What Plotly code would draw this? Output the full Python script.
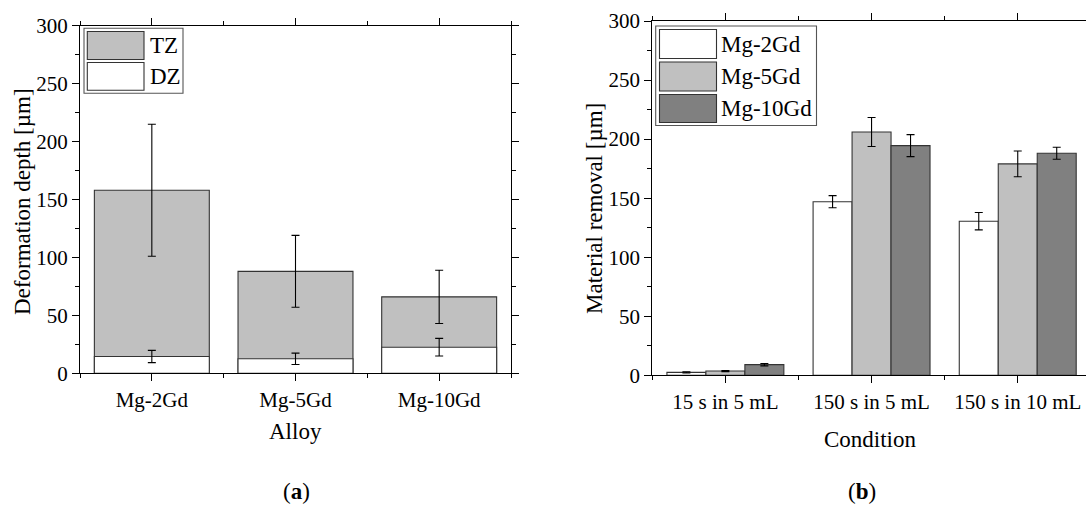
import plotly.graph_objects as go

# ---------------- data ----------------
alloys = ["Mg-2Gd", "Mg-5Gd", "Mg-10Gd"]
zone_names = ["TZ", "DZ"]
tz_depth = [158, 88, 66]          # total deformation depth (TZ bar top)
tz_err = [57, 31, 23]
dz_depth = [14.5, 12.5, 22.5]
dz_err = [5.3, 4.9, 7.6]

conditions = ["15 s in 5 mL", "150 s in 5 mL", "150 s in 10 mL"]
alloy_names = ["Mg-2Gd", "Mg-5Gd", "Mg-10Gd"]
removal = {
    "Mg-2Gd": [2.5, 147, 130.5],
    "Mg-5Gd": [3.6, 206, 179],
    "Mg-10Gd": [9.0, 194.5, 188],
}
removal_err = {
    "Mg-2Gd": [0.5, 5.1, 7.4],
    "Mg-5Gd": [0.5, 12.3, 10.9],
    "Mg-10Gd": [1.0, 9.3, 5.1],
}

y_ticks = [0, 50, 100, 150, 200, 250, 300]

# ---------------- styles ----------------
W, H = 1086, 524
FONT = "Liberation Serif"
TICK_SIZE = 21
TITLE_SIZE = 23
LEG_SIZE = 23
EDGE = "#333333"
fills_zone = {"TZ": "#c0c0c0", "DZ": "#ffffff"}
fills_alloy = {"Mg-2Gd": "#ffffff", "Mg-5Gd": "#c0c0c0", "Mg-10Gd": "#808080"}


def fx(px):
    return px / W


def fy(py):
    return 1 - py / H


fig = go.Figure()

# left chart: overlaid TZ (total) and DZ bars
xl = list(range(len(alloys)))
for name, vals, errs in [("TZ", tz_depth, tz_err), ("DZ", dz_depth, dz_err)]:
    fig.add_trace(go.Bar(
        x=xl, y=vals, name=name, width=0.8, offset=-0.4,
        marker=dict(color=fills_zone[name], line=dict(color=EDGE, width=1.1)),
        error_y=dict(type="data", array=errs, visible=True, color="black",
                     thickness=1.1, width=4),
        xaxis="x", yaxis="y", showlegend=False,
    ))

# right chart: grouped bars
xr = list(range(len(conditions)))
for name in alloy_names:
    fig.add_trace(go.Bar(
        x=xr, y=removal[name], name=name,
        marker=dict(color=fills_alloy[name], line=dict(color=EDGE, width=1.1)),
        error_y=dict(type="data", array=removal_err[name], visible=True,
                     color="black", thickness=1.1, width=4),
        xaxis="x2", yaxis="y2", showlegend=False,
    ))

axis_common = dict(
    showline=True, linecolor="black", linewidth=1.2,
    ticks="outside", tickcolor="black", tickwidth=1.2, ticklen=7,
    showgrid=False, zeroline=False,
    tickfont=dict(family=FONT, size=TICK_SIZE, color="black"),
    automargin=False,
)

cat_minor = dict(tickmode="array", tickvals=[-0.5, 0.5, 1.5, 2.5], ticks="outside",
                 ticklen=4, tickcolor="black", tickwidth=1.2, showgrid=False)
y_minor = dict(dtick=25, ticks="outside", ticklen=4, tickcolor="black",
               tickwidth=1.2, showgrid=False)

fig.update_layout(
    width=W, height=H,
    margin=dict(l=0, r=0, t=0, b=0),
    paper_bgcolor="white", plot_bgcolor="white",
    barmode="group", bargap=0.2, bargroupgap=0,
    font=dict(family=FONT, color="black"),
    xaxis=dict(domain=[fx(80), fx(511)], range=[-0.5, 2.5],
               tickmode="array", tickvals=xl, ticktext=alloys,
               mirror="allticks", minor=cat_minor, anchor="y", **axis_common),
    yaxis=dict(domain=[fy(373.3), fy(25.7)], range=[0, 300],
               tickmode="array", tickvals=y_ticks,
               mirror="allticks", minor=y_minor, anchor="x", **axis_common),
    xaxis2=dict(domain=[fx(652.3), 1.0], range=[-0.5, 2.467],
                tickmode="array", tickvals=xr, ticktext=conditions,
                mirror="allticks", minor=cat_minor, anchor="y2", **axis_common),
    yaxis2=dict(domain=[fy(375.3), fy(21)], range=[0, 300],
                tickmode="array", tickvals=y_ticks,
                mirror=False, minor=y_minor, anchor="x2", **axis_common),
)

# axis titles and panel labels
ann = [
    ("Deformation depth [µm]", 23, 202, -90),
    ("Alloy", 295.5, 431, 0),
    ("Material removal [µm]", 594, 209, -90),
    ("Condition", 870.5, 439, 0),
    ("(<b>a</b>)", 296, 491, 0),
    ("(<b>b</b>)", 862, 491, 0),
]
for text, px, py, ang in ann:
    fig.add_annotation(xref="paper", yref="paper", showarrow=False,
                       x=fx(px), y=fy(py), xanchor="center", yanchor="middle",
                       textangle=ang, text=text,
                       font=dict(family=FONT, size=TITLE_SIZE, color="black"))

# custom legends (large swatches)
shapes = []


def legend(box, sw_x0, sw_x1, rows, names, fills, text_x):
    shapes.append(dict(type="rect", xref="paper", yref="paper",
                       x0=fx(box[0]), x1=fx(box[1]), y0=fy(box[3]), y1=fy(box[2]),
                       line=dict(color="#555555", width=1.1), fillcolor="white"))
    for (r0, r1), nm in zip(rows, names):
        shapes.append(dict(type="rect", xref="paper", yref="paper",
                           x0=fx(sw_x0), x1=fx(sw_x1), y0=fy(r1), y1=fy(r0),
                           line=dict(color=EDGE, width=1.1), fillcolor=fills[nm]))
        fig.add_annotation(xref="paper", yref="paper", showarrow=False,
                           x=fx(text_x), y=fy((r0 + r1) / 2), xanchor="left",
                           yanchor="middle", text=nm,
                           font=dict(family=FONT, size=LEG_SIZE, color="black"))


legend((84, 183, 28.3, 93.3), 87.3, 144, [(31.5, 59.5), (62.5, 90.3)],
       zone_names, fills_zone, 148)
legend((655.7, 816.5, 26, 125.5), 659.5, 716.5, [(29.5, 58.5), (62, 91), (94.5, 122.5)],
       alloy_names, fills_alloy, 718.5)

fig.update_layout(shapes=shapes)
fig.write_html("out.html")
